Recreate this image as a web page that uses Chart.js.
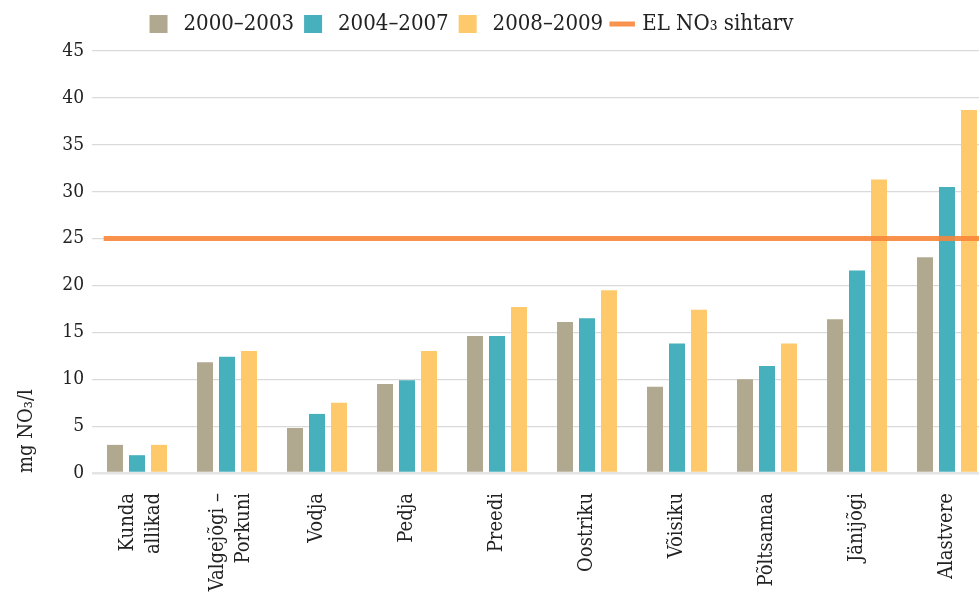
<!DOCTYPE html>
<html>
<head>
<meta charset="utf-8">
<script src="https://cdn.jsdelivr.net/npm/chart.js@4.4.0/dist/chart.umd.min.js"></script>
<style>
  html, body { margin: 0; padding: 0; background: #fff; overflow: hidden; }
  #wrap { width: 979px; height: 595px; overflow: hidden; }
</style>
</head>
<body>
<div id="wrap"><canvas id="chart" width="993" height="595"></canvas></div>
<script>
// andmed (mg NO3/l)
const categories = [['Kunda', 'allikad'], ['Valgejõgi –', 'Porkuni'], 'Vodja', 'Pedja', 'Preedi', 'Oostriku', 'Võisiku', 'Põltsamaa', 'Jänijõgi', 'Alastvere'];
const seriesLabels = ['2000–2003', '2004–2007', '2008–2009'];
const values2000 = [3.0, 11.8, 4.8, 9.5, 14.6, 16.1, 9.2, 10.0, 16.4, 23.0];
const values2004 = [1.9, 12.4, 6.3, 9.9, 14.6, 16.5, 13.8, 11.4, 21.6, 30.5];
const values2008 = [3.0, 13.0, 7.5, 13.0, 17.7, 19.5, 17.4, 13.8, 31.3, 38.7];
const targetLabel = 'EL NO₃ sihtarv';
const targetValue = 25;
const targetFrom = -0.37;   // kategooria-indeks, kust sihtarvu joon algab
const yMax = 45;
const yStep = 5;

const colors = ['#b1a98f', '#47b0bd', '#fec96a'];
const targetColor = 'rgba(247,134,58,0.9)';
const fontFamily = '"DejaVu Serif Condensed", "DejaVu Serif", serif';
const textColor = '#222';

const barSets = [values2000, values2004, values2008].map((vals, i) => ({
  type: 'bar',
  label: seriesLabels[i],
  data: vals,
  backgroundColor: colors[i],
  borderWidth: 0,
  pointStyle: 'rect',
  categoryPercentage: 0.733,
  barPercentage: 0.727
}));

// ainult legendi jaoks, joon ise joonistatakse pluginaga
const targetSet = {
  type: 'line',
  label: targetLabel,
  data: [],
  borderColor: targetColor,
  backgroundColor: targetColor,
  borderWidth: 5,
  pointRadius: 0,
  pointStyle: 'line'
};

const targetLine = {
  id: 'targetLine',
  afterDatasetsDraw(chart) {
    const { ctx, chartArea, scales } = chart;
    const y = scales.y.getPixelForValue(targetValue);
    const x0 = scales.x.getPixelForValue(targetFrom);
    ctx.save();
    ctx.strokeStyle = targetColor;
    ctx.lineWidth = 5;
    ctx.beginPath();
    ctx.moveTo(x0, y);
    ctx.lineTo(chartArea.right, y);
    ctx.stroke();
    ctx.restore();
  }
};

const layoutFix = {
  id: 'layoutFix',
  beforeInit(chart) {
    const fit = chart.legend.fit;
    chart.legend.fit = function () {
      fit.call(this);
      this.height = 51;
    };
  },
  afterLayout(chart) {
    chart.legend.left -= 25;
    chart.legend.right -= 25;
    chart.legend.top += 3;
  },
  beforeDraw(chart) {
    // mitmerealised sildid keskele
    const sx = chart.scales.x;
    sx.getLabelItems().forEach(item => {
      if (Array.isArray(item.label) && !item._shifted) {
        item.options.translation[0] -= (item.label.length - 1) * item.font.lineHeight * 0.35;
        item._shifted = true;
      }
    });
  }
};

new Chart(document.getElementById('chart'), {
  type: 'bar',
  data: { labels: categories, datasets: [...barSets, targetSet] },
  options: {
    responsive: false,
    animation: false,
    layout: { padding: 0 },
    plugins: {
      tooltip: { enabled: false },
      legend: {
        position: 'top',
        labels: {
          usePointStyle: true,
          boxWidth: 18,
          boxHeight: 18,
          padding: 10,
          color: textColor,
          font: { family: fontFamily, size: 22 },
          generateLabels: (chart) => {
            const items = Chart.defaults.plugins.legend.labels.generateLabels(chart);
            items.forEach(it => {
              if (it.pointStyle === 'rect') it.text = '\u2005' + it.text;
            });
            return items;
          }
        }
      }
    },
    scales: {
      x: {
        type: 'category',
        offset: true,
        grid: { display: false, drawTicks: false },
        border: { display: false },
        ticks: {
          color: textColor,
          font: { family: fontFamily, size: 20, lineHeight: 1.3 },
          minRotation: 90,
          maxRotation: 90,
          autoSkip: false,
          padding: 20
        },
        afterFit: (scale) => { scale.height = 122; }
      },
      y: {
        min: 0,
        max: yMax,
        grid: {
          color: (ctx) => ctx.tick && ctx.tick.value === 0 ? '#e4e4e4' : '#dadada',
          lineWidth: (ctx) => ctx.tick && ctx.tick.value === 0 ? 2.5 : 1.2,
          drawTicks: false
        },
        border: { display: false },
        ticks: {
          stepSize: yStep,
          color: textColor,
          font: { family: fontFamily, size: 19 },
          padding: 8
        },
        title: {
          display: true,
          text: 'mg NO₃/l',
          align: 'start',
          color: textColor,
          font: { family: fontFamily, size: 20 },
          padding: { top: 15, bottom: 0 }
        },
        afterFit: (scale) => { scale.width = 92; }
      }
    }
  },
  plugins: [targetLine, layoutFix]
});
</script>
</body>
</html>
